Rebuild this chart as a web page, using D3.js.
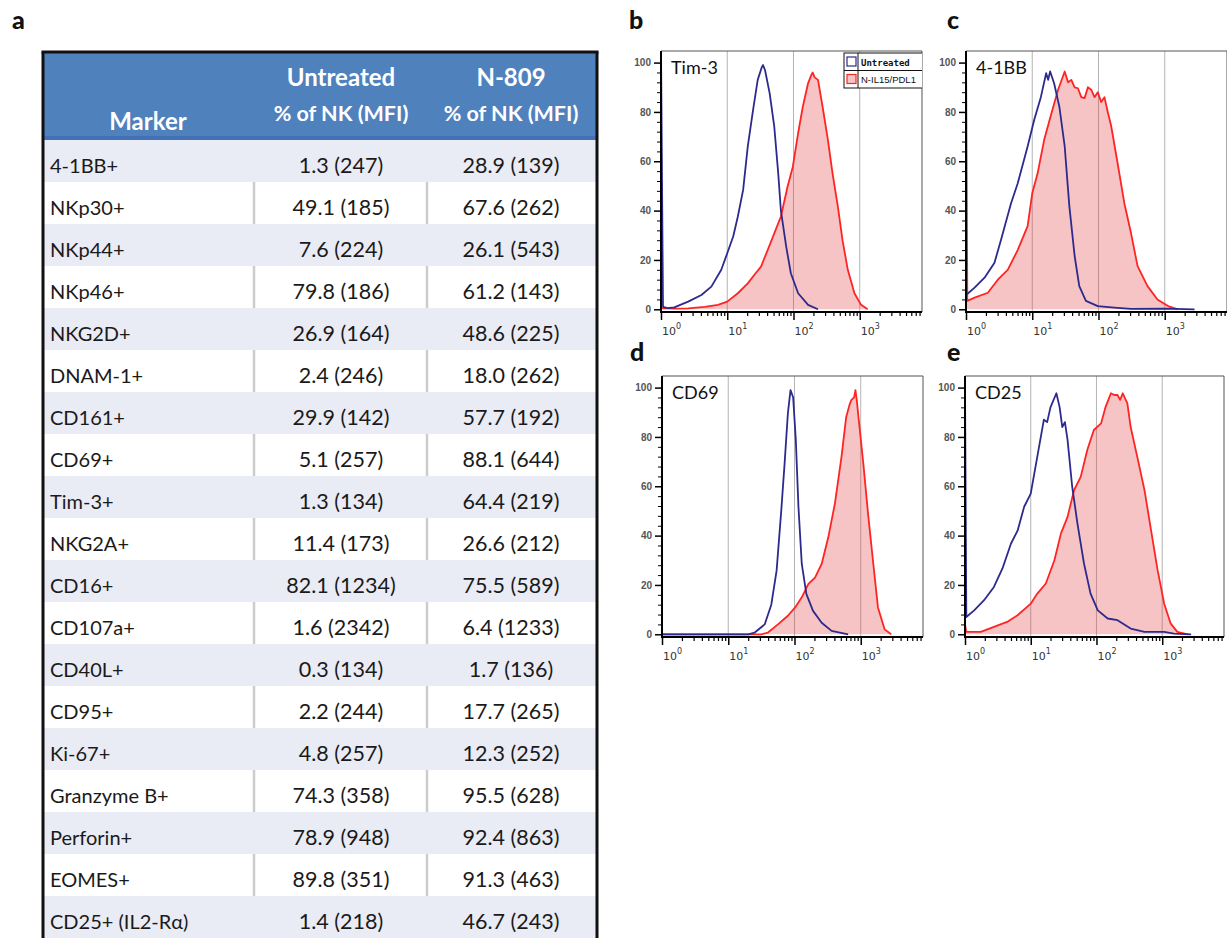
<!DOCTYPE html>
<html><head><meta charset="utf-8">
<script src="https://cdn.jsdelivr.net/npm/d3@7"></script>
<style>body{margin:0;background:#fff} svg{display:block}</style>
</head><body><svg id="c" width="1227" height="938"></svg>
<script>
// ---------- Table data ----------
const markers = ["4-1BB+","NKp30+","NKp44+","NKp46+","NKG2D+","DNAM-1+","CD161+","CD69+","Tim-3+","NKG2A+","CD16+","CD107a+","CD40L+","CD95+","Ki-67+","Granzyme B+","Perforin+","EOMES+","CD25+ (IL2-R\u03b1)"];
const untreatedPct = [1.3,49.1,7.6,79.8,26.9,2.4,29.9,5.1,1.3,11.4,82.1,1.6,0.3,2.2,4.8,74.3,78.9,89.8,1.4];
const untreatedMFI = [247,185,224,186,164,246,142,257,134,173,1234,2342,134,244,257,358,948,351,218];
const n809Pct = [28.9,67.6,26.1,61.2,48.6,18.0,57.7,88.1,64.4,26.6,75.5,6.4,1.7,17.7,12.3,95.5,92.4,91.3,46.7];
const n809MFI = [139,262,543,143,225,262,192,644,219,212,589,1233,136,265,252,628,863,463,243];
const headerMarker = "Marker";
const headerGroups = ["Untreated","N-809"];
const headerSub = "% of NK (MFI)";

// ---------- Histogram data: [log10 intensity, % of max] ----------
const tim3Untreated = [[0,0],[0,106],[0.03,1],[0.1,0.5],[0.2,0.8],[0.41,3.1],[0.61,5.8],[0.76,9.2],[0.91,16],[1.0,22.7],[1.09,29.5],[1.16,37.6],[1.24,48.4],[1.31,66],[1.39,80.8],[1.46,93],[1.52,98],[1.54,99],[1.57,97],[1.64,87.6],[1.71,74],[1.77,55],[1.81,40],[1.89,25.4],[1.96,14.6],[2.07,6.5],[2.22,1.8],[2.37,0]];
const tim3Treated = [[0.01,0.5],[0.2,0.3],[0.41,0.4],[0.66,1],[0.86,1.8],[1.0,3.1],[1.16,6.5],[1.31,10.5],[1.41,14],[1.51,17.3],[1.61,24],[1.71,30.8],[1.81,37.6],[1.91,49.7],[1.99,57.8],[2.07,71.4],[2.14,82],[2.22,91.6],[2.27,95],[2.29,96],[2.32,94],[2.37,93],[2.44,82],[2.52,68.6],[2.59,55],[2.67,41.6],[2.74,28],[2.82,16],[2.92,6.5],[3.02,1.8],[3.12,0]];
const bb41Untreated = [[0.01,6],[0.13,8.8],[0.28,12.8],[0.43,18.9],[0.53,28.3],[0.68,43],[0.78,51],[0.93,66],[1.03,76.8],[1.13,86],[1.21,95.7],[1.24,93],[1.27,96.4],[1.33,91.6],[1.41,82],[1.49,66],[1.56,41.8],[1.64,21.6],[1.71,9.4],[1.81,3.4],[1.99,1.3],[2.24,0.7],[2.49,0.2],[3.0,0.3],[3.45,0]];
const bb41Treated = [[0,0],[0,106],[0.02,3.4],[0.13,4.7],[0.33,6.7],[0.48,12],[0.63,16],[0.78,24],[0.93,33.7],[1.0,47],[1.08,55],[1.18,68.7],[1.29,79.5],[1.39,89],[1.49,96.4],[1.54,92],[1.59,93],[1.64,90],[1.69,89.6],[1.74,86],[1.79,85.6],[1.84,90],[1.89,89],[1.94,86],[1.99,88],[2.04,84],[2.09,86],[2.14,80],[2.19,74.5],[2.29,59],[2.39,43],[2.49,31],[2.59,17.5],[2.74,9.4],[2.89,4],[3.05,1.3],[3.2,0]];
const cd69Untreated = [[0,0],[1.30,0],[1.40,0.7],[1.55,4],[1.65,12],[1.73,25.8],[1.80,50],[1.85,69],[1.90,89.5],[1.94,99],[1.98,96],[2.02,78.7],[2.06,51.6],[2.11,28.5],[2.18,16.3],[2.28,9.5],[2.41,4.7],[2.56,1.4],[2.81,0]];
const cd69Treated = [[0,0],[1.50,0],[1.60,0.7],[1.75,4],[1.90,7.5],[2.01,10.9],[2.11,15],[2.21,20.4],[2.31,23],[2.41,28.5],[2.51,39.3],[2.61,53],[2.71,72],[2.78,88],[2.83,93],[2.86,95],[2.90,96],[2.92,99],[2.94,95],[2.97,87],[3.04,69],[3.11,49],[3.19,28.5],[3.26,10.9],[3.36,2],[3.46,0]];
const cd25Untreated = [[0,0],[0,100],[0.02,7],[0.14,9.7],[0.29,13.8],[0.44,19.2],[0.57,26.7],[0.70,36.8],[0.80,42],[0.90,51.7],[1.00,57],[1.10,72],[1.20,87],[1.25,86],[1.30,92],[1.39,97.7],[1.44,92],[1.48,84],[1.52,86],[1.56,78.8],[1.63,60],[1.71,45],[1.81,28.7],[1.91,16.5],[2.02,9.7],[2.17,6.4],[2.32,5.7],[2.52,2.3],[2.73,1],[3.03,1],[3.18,0.3],[3.44,0]];
const cd25Treated = [[0,4],[0.02,1],[0.24,1],[0.44,3],[0.64,5],[0.80,7.7],[1.00,12.4],[1.10,16.5],[1.23,20.6],[1.36,30],[1.46,40.9],[1.56,47.6],[1.66,58.5],[1.76,63.8],[1.86,74.7],[1.96,82.8],[2.07,85.5],[2.14,92.3],[2.22,97.7],[2.27,97],[2.32,97],[2.36,95],[2.40,97.7],[2.47,93.6],[2.52,84],[2.62,72],[2.73,58.5],[2.83,42.2],[2.93,26],[3.03,12.4],[3.13,4.3],[3.23,1],[3.39,0]];
const panelNames = ["Tim-3","4-1BB","CD69","CD25"];
const legendLabels = ["Untreated","N-IL15/PDL1"];
const xMajorTicks = [1,10,100,1000];
const yMajorTicks = [0,20,40,60,80,100];

const svg = d3.select("#c");
const FONT = "Lato, 'Open Sans', sans-serif";

// ---------- Table ----------
const tL = 43, tR = 597, tTop = 52, hdrBottom = 140;
const rowY = d3.scaleBand().domain(markers).range([hdrBottom, 938]);
const colCenter = [null, 341, 511];
const tg = svg.append("g");
tg.append("rect").attr("x", tL).attr("y", tTop).attr("width", tR - tL).attr("height", hdrBottom - tTop).attr("fill", "#4f81bd");
tg.append("rect").attr("x", tL).attr("y", hdrBottom - 4).attr("width", tR - tL).attr("height", 4).attr("fill", "#4470b5");
markers.forEach((m, i) => {
  const y0 = rowY(m), bh = rowY.bandwidth();
  if (i % 2 === 0) {
    tg.append("rect").attr("x", tL).attr("y", y0).attr("width", tR - tL).attr("height", bh).attr("fill", "#e9ebf5");
  } else {
    [254, 427].forEach(sx => tg.append("line").attr("x1", sx).attr("x2", sx).attr("y1", y0).attr("y2", y0 + bh)
      .attr("stroke", "#cccccc").attr("stroke-width", 2.5));
  }
  const base = y0 + 33;
  tg.append("text").attr("x", 50).attr("y", base).text(m)
    .attr("font-family", FONT).attr("font-size", 20).attr("fill", "#1a1a1a");
  tg.append("text").attr("x", colCenter[1]).attr("y", base).attr("text-anchor", "middle")
    .text(`${untreatedPct[i].toFixed(1)} (${untreatedMFI[i]})`)
    .attr("font-family", FONT).attr("font-size", 21.5).attr("fill", "#1a1a1a");
  tg.append("text").attr("x", colCenter[2]).attr("y", base).attr("text-anchor", "middle")
    .text(`${n809Pct[i].toFixed(1)} (${n809MFI[i]})`)
    .attr("font-family", FONT).attr("font-size", 21.5).attr("fill", "#1a1a1a");
});
tg.append("text").attr("x", 148).attr("y", 130).attr("text-anchor", "middle").text(headerMarker)
  .attr("font-family", FONT).attr("font-weight", "bold").attr("font-size", 24).attr("fill", "#fff");
headerGroups.forEach((h, k) => {
  tg.append("text").attr("x", colCenter[k + 1]).attr("y", 86).attr("text-anchor", "middle").text(h)
    .attr("font-family", FONT).attr("font-weight", "bold").attr("font-size", 24).attr("fill", "#fff");
  tg.append("text").attr("x", colCenter[k + 1]).attr("y", 121).attr("text-anchor", "middle").text(headerSub)
    .attr("font-family", FONT).attr("font-weight", "bold").attr("font-size", 21.5).attr("fill", "#fff");
});
// borders
tg.append("line").attr("x1", tL - 1.5).attr("x2", tR + 1.5).attr("y1", tTop).attr("y2", tTop).attr("stroke", "#111").attr("stroke-width", 3);
tg.append("line").attr("x1", tL).attr("x2", tL).attr("y1", tTop).attr("y2", 938).attr("stroke", "#111").attr("stroke-width", 3);
tg.append("line").attr("x1", tR).attr("x2", tR).attr("y1", tTop).attr("y2", 938).attr("stroke", "#111").attr("stroke-width", 3);

// panel letters
const letterPos = [["a", 12, 29], ["b", 629, 29], ["c", 947, 29], ["d", 630, 361], ["e", 947, 361]];
letterPos.forEach(([t, x, y]) => svg.append("text").attr("x", x).attr("y", y).text(t)
  .attr("font-family", FONT).attr("font-weight", "900").attr("font-size", 25).attr("fill", "#111"));

// ---------- Histograms ----------
const panels = [
  { name: panelNames[0], un: tim3Untreated, tr: tim3Treated, left: 661, top: 51, w: 261, legend: true },
  { name: panelNames[1], un: bb41Untreated, tr: bb41Treated, left: 966, top: 51, w: 261 },
  { name: panelNames[2], un: cd69Untreated, tr: cd69Treated, left: 662, top: 376, w: 261 },
  { name: panelNames[3], un: cd25Untreated, tr: cd25Treated, left: 965, top: 376, w: 259 }
];
const H = 261;
panels.forEach((p, pi) => {
  const x = d3.scaleLog().domain([1, Math.pow(10, 3.94)]).range([p.left, p.left + p.w]);
  const y = d3.scaleLinear().domain([-1.1, 104.7]).range([p.top + H, p.top]);
  const g = svg.append("g");
  const cid = "clip" + pi;
  g.append("clipPath").attr("id", cid).append("rect").attr("x", p.left).attr("y", p.top).attr("width", p.w).attr("height", H);
  // grid
  g.selectAll(".grid").data(xMajorTicks.slice(1)).enter().append("line")
    .attr("x1", d => x(d)).attr("x2", d => x(d)).attr("y1", p.top).attr("y2", p.top + H)
    .attr("stroke", "#b4b4b4").attr("stroke-width", 1);
  const pg = g.append("g").attr("clip-path", `url(#${cid})`);
  const area = d3.area().x(d => x(Math.pow(10, d[0]))).y0(y(0)).y1(d => y(d[1]));
  const line = d3.line().x(d => x(Math.pow(10, d[0]))).y(d => y(d[1]));
  pg.append("path").datum(p.tr).attr("d", area).attr("fill", "rgba(225,60,60,0.3)");
  pg.append("path").datum(p.tr).attr("d", line).attr("fill", "none").attr("stroke", "#ff2424").attr("stroke-width", 1.8).attr("stroke-linejoin", "round");
  pg.append("path").datum(p.un).attr("d", line).attr("fill", "none").attr("stroke", "#2d2a8e").attr("stroke-width", 1.8).attr("stroke-linejoin", "round");
  // frame top/right
  g.append("path").attr("d", `M${p.left},${p.top}H${p.left + p.w}V${p.top + H}`).attr("fill", "none").attr("stroke", "#555").attr("stroke-width", 1);
  // label
  g.append("text").attr("x", p.left + 10).attr("y", p.top + 23).text(p.name)
    .attr("font-family", FONT).attr("font-size", 18).attr("fill", "#111");
  // y axis
  const yMinor = d3.range(4, 104, 4).filter(v => v % 20 !== 0);
  const yaMin = g.append("g").attr("transform", `translate(${p.left},0)`)
    .call(d3.axisLeft(y).tickValues(yMinor).tickSize(4).tickSizeOuter(0).tickFormat(""));
  yaMin.select(".domain").remove();
  const ya = g.append("g").attr("transform", `translate(${p.left},0)`)
    .call(d3.axisLeft(y).tickValues(yMajorTicks).tickSize(7).tickPadding(3).tickSizeOuter(0));
  ya.select(".domain").attr("d", `M0,${p.top + H + 1}V${p.top}`).attr("stroke-width", 2);
  ya.selectAll(".tick line").attr("stroke-width", 1.5);
  ya.selectAll("text").attr("font-family", "Arial, 'Liberation Sans', sans-serif").attr("font-weight", "bold")
    .attr("font-size", 10).attr("fill", "#555");
  yaMin.selectAll(".tick line").attr("stroke-width", 1);
  // x axis
  const allTicks = x.ticks();
  const xMinor = allTicks.filter(v => !xMajorTicks.includes(v));
  const xaMin = g.append("g").attr("transform", `translate(0,${p.top + H})`)
    .call(d3.axisBottom(x).tickValues(xMinor).tickSize(4).tickSizeOuter(0).tickFormat(""));
  xaMin.select(".domain").remove();
  xaMin.selectAll(".tick line").attr("stroke-width", 1.2);
  const xa = g.append("g").attr("transform", `translate(0,${p.top + H})`)
    .call(d3.axisBottom(x).tickValues(xMajorTicks).tickSize(8).tickSizeOuter(0).tickFormat(""));
  xa.select(".domain").attr("d", `M${p.left - 1},0H${p.left + p.w}`).attr("stroke-width", 2);
  xa.selectAll(".tick line").attr("stroke-width", 1.5);
  xMajorTicks.forEach(v => {
    const t = g.append("text").attr("x", x(v) + 1).attr("y", p.top + H + 23)
      .attr("font-family", "'DejaVu Sans', sans-serif").attr("font-size", 11).attr("fill", "#333");
    t.append("tspan").text("10");
    t.append("tspan").attr("dy", -6).attr("font-size", 8).text(String(Math.round(Math.log10(v))));
  });
  // legend
  if (p.legend) {
    const lg = g.append("g").attr("clip-path", `url(#${cid})`);
    const lx = 844, ly = 53, rh = 17.5, lw = 100;
    lg.append("rect").attr("x", lx).attr("y", ly).attr("width", lw).attr("height", rh * 2).attr("fill", "#fff").attr("stroke", "#111").attr("stroke-width", 1);
    lg.append("line").attr("x1", lx).attr("x2", lx + lw).attr("y1", ly + rh).attr("y2", ly + rh).attr("stroke", "#111");
    lg.append("line").attr("x1", lx + 14).attr("x2", lx + 14).attr("y1", ly).attr("y2", ly + 2 * rh).attr("stroke", "#111");
    lg.append("rect").attr("x", lx + 3).attr("y", ly + 4).attr("width", 9).attr("height", 9).attr("fill", "#fff").attr("stroke", "#2d2a8e").attr("stroke-width", 1.2);
    lg.append("rect").attr("x", lx + 3).attr("y", ly + rh + 4).attr("width", 9).attr("height", 9).attr("fill", "rgba(225,60,60,0.3)").attr("stroke", "#ff2424").attr("stroke-width", 1.2);
    lg.append("text").attr("x", lx + 17).attr("y", ly + 12.5).text(legendLabels[0])
      .attr("font-family", "'DejaVu Sans Mono', monospace").attr("font-weight", "bold").attr("font-size", 9).attr("fill", "#111");
    lg.append("text").attr("x", lx + 17).attr("y", ly + rh + 12.5).text(legendLabels[1])
      .attr("font-family", "Arial, 'Liberation Sans', sans-serif").attr("font-size", 9.5).attr("fill", "#111");
  }
});
</script></body></html>
